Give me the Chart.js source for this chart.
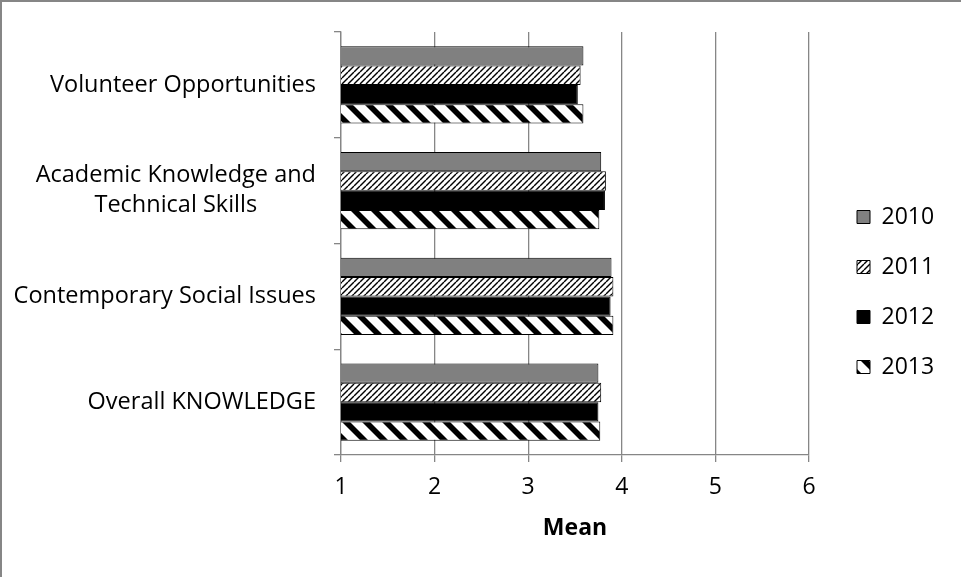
<!DOCTYPE html>
<html>
<head>
<meta charset="utf-8">
<title>Knowledge means 2010-2013</title>
<script src="https://cdn.jsdelivr.net/npm/chart.js@4/dist/chart.umd.min.js"></script>
<style>
  html, body { margin: 0; padding: 0; background: #fff; }
  #wrap { position: relative; width: 961px; height: 577px; }
  #wrap canvas { position: absolute; left: 0; top: 0; }
  #frame {
    position: absolute; left: 0; top: 0; width: 961px; height: 577px;
    box-sizing: border-box;
    border-top: 2px solid #868686;
    border-left: 2px solid #868686;
    pointer-events: none;
  }
</style>
</head>
<body>
<div id="wrap">
  <canvas id="chart" width="961" height="577"></canvas>
  <div id="frame"></div>
</div>
<script>
/* ---------- données ---------- */
const CATEGORIES = [
  'Volunteer Opportunities',
  ['Academic Knowledge and', 'Technical Skills'],
  'Contemporary Social Issues',
  'Overall KNOWLEDGE',
];
const YEARS      = ['2010', '2011', '2012', '2013'];
const MEANS_2010 = [3.59, 3.78, 3.89, 3.75];
const MEANS_2011 = [3.56, 3.83, 3.91, 3.78];
const MEANS_2012 = [3.53, 3.82, 3.88, 3.75];
const MEANS_2013 = [3.59, 3.76, 3.91, 3.77];
const X_TICKS    = [1, 2, 3, 4, 5, 6];
const X_TITLE    = 'Mean';

/* ---------- styles ---------- */
const FONT      = '"Open Sans", Lato, sans-serif';
const GRID      = '#868686';
const TICK_LEN  = 7;
const YLAB_PAD  = 18;
const YLAB_LINE = 30;

/* motifs Excel : fines diagonales montantes / larges diagonales descendantes */
function thinUpDiag() {
  const c = document.createElement('canvas');
  c.width = 6; c.height = 6;
  const g = c.getContext('2d');
  g.fillStyle = '#fff';
  g.fillRect(0, 0, 6, 6);
  g.strokeStyle = '#000';
  g.lineWidth = 1.4;
  [-6, 0, 6].forEach(k => {
    g.beginPath(); g.moveTo(k, 6); g.lineTo(k + 6, 0); g.stroke();
  });
  return g.createPattern(c, 'repeat');
}

function wideDownDiag() {
  const c = document.createElement('canvas');
  c.width = 20; c.height = 20;
  const g = c.getContext('2d');
  g.fillStyle = '#fff';
  g.fillRect(0, 0, 20, 20);
  g.fillStyle = '#000';
  [-20, 0, 20].forEach(k => {
    g.beginPath();
    g.moveTo(k, 0); g.lineTo(k + 8, 0); g.lineTo(k + 28, 20); g.lineTo(k + 20, 20);
    g.closePath(); g.fill();
  });
  return g.createPattern(c, 'repeat');
}

const FILLS = ['#808080', thinUpDiag(), '#000000', wideDownDiag()];
const SERIES = [MEANS_2010, MEANS_2011, MEANS_2012, MEANS_2013];

/* étiquettes de l'axe Y : alignées à droite, lignes centrées entre elles */
const yLabelPlugin = {
  id: 'yLabels',
  afterDraw(chart) {
    const scale = chart.scales.y;
    const ctx = chart.ctx;
    const right = scale.right - TICK_LEN - YLAB_PAD;
    ctx.save();
    ctx.font = '23.5px ' + FONT;
    ctx.fillStyle = '#000';
    ctx.textAlign = 'center';
    ctx.textBaseline = 'middle';
    CATEGORIES.forEach((label, i) => {
      const lines = Array.isArray(label) ? label : [label];
      const w = Math.max(...lines.map(l => ctx.measureText(l).width));
      const cx = right - w / 2;
      const y0 = scale.getPixelForTick(i) - (lines.length - 1) * YLAB_LINE / 2;
      lines.forEach((l, j) => ctx.fillText(l, cx, y0 + j * YLAB_LINE));
    });
    ctx.restore();
  },
};

/* légende placée à droite, hors zone de tracé */
const legendPlacer = {
  id: 'legendPlacer',
  afterLayout(chart) {
    const lg = chart.legend;
    lg.left = 830;
    lg.right = lg.left + lg.width;
    lg.top = 7;
    lg.bottom = chart.height;
    lg.height = lg.bottom - lg.top;
  },
};

new Chart(document.getElementById('chart'), {
  type: 'bar',
  data: {
    labels: CATEGORIES,
    datasets: YEARS.map((year, i) => ({
      label: year,
      data: SERIES[i],
      backgroundColor: FILLS[i],
      borderColor: '#000',
      borderWidth: 1,
      borderSkipped: false,
      barPercentage: 1,
      categoryPercentage: 0.73,
    })),
  },
  options: {
    indexAxis: 'y',
    responsive: false,
    animation: false,
    layout: { padding: { top: 32, right: 152, bottom: 0, left: 0 } },
    plugins: {
      tooltip: { enabled: false },
      legend: {
        position: 'chartArea',
        align: 'center',
        labels: {
          color: '#000',
          font: { family: FONT, size: 23 },
          boxWidth: 13,
          boxHeight: 13,
          padding: 27,
        },
      },
    },
    scales: {
      x: {
        min: X_TICKS[0],
        max: X_TICKS[X_TICKS.length - 1],
        afterBuildTicks: s => { s.ticks = X_TICKS.map(v => ({ value: v })); },
        afterFit: s => { s.height = 122; },
        grid: { color: GRID, lineWidth: 1.3, tickLength: TICK_LEN, drawTicks: true },
        border: { color: GRID, width: 1.3 },
        ticks: { color: '#000', font: { family: FONT, size: 23 }, padding: 12 },
        title: {
          display: true,
          text: X_TITLE,
          color: '#000',
          font: { family: FONT, size: 23, weight: 'bold' },
          padding: { top: 0, bottom: 35 },
        },
      },
      y: {
        afterFit: s => { s.width = 341; },
        grid: { drawOnChartArea: false, color: GRID, lineWidth: 1.3, tickLength: TICK_LEN },
        border: { color: GRID, width: 1.3 },
        ticks: { display: false },
      },
    },
  },
  plugins: [yLabelPlugin, legendPlacer],
});
</script>
</body>
</html>
